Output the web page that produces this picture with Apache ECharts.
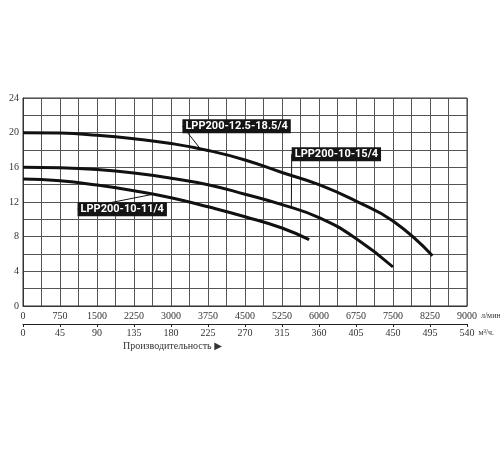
<!DOCTYPE html>
<html>
<head>
<meta charset="utf-8">
<script src="https://cdn.jsdelivr.net/npm/echarts@6/dist/echarts.min.js"></script>
<style>
  html, body { margin: 0; padding: 0; background: #fff; }
  #chart { width: 500px; height: 450px; }
</style>
</head>
<body>
<div id="chart"></div>
<script>
// flow in l/min, head in m
var curveTop = [[0, 20.0], [750, 19.95], [1500, 19.7], [2250, 19.3], [3000, 18.75], [3750, 17.95], [4500, 16.85], [5250, 15.4], [6000, 14.0], [6750, 12.1], [7500, 9.8], [8300, 5.8]]
var curveMid = [[0, 16.0], [750, 15.95], [1500, 15.75], [2250, 15.35], [3000, 14.75], [3750, 14.0], [4500, 12.9], [5250, 11.7], [6000, 10.2], [6750, 7.8], [7500, 4.5]]
var curveLow = [[0, 14.65], [750, 14.45], [1500, 13.95], [2250, 13.3], [3000, 12.5], [3750, 11.45], [4500, 10.3], [5250, 9.0], [5800, 7.65]]
var names = ['LPP200-12.5-18.5/4', 'LPP200-10-15/4', 'LPP200-10-11/4']
// where each tag's pointer touches its curve
var tagPoints = [[3600, 18.1], [5440, 11.4], [2640, 12.9]]

var serif = "'Liberation Serif', 'DejaVu Serif', serif"
var tagFont = "Roboto, 'DejaVu Sans Condensed', sans-serif"

function curve(name, pts) {
  return {
    name: name,
    type: 'line',
    smooth: true,
    symbol: 'none',
    lineStyle: { color: '#111', width: 3 },
    data: pts
  }
}

function tag(name, pt, pos, dx, dy) {
  return {
    name: name + ' tag',
    type: 'scatter',
    symbolSize: 0,
    z: 5,
    itemStyle: { opacity: 1 },
    label: {
      show: true,
      position: pos,
      distance: 5,
      formatter: name,
      color: '#fff',
      opacity: 1,
      backgroundColor: '#151515',
      fontFamily: tagFont,
      fontWeight: 'bold',
      fontSize: 11,
      lineHeight: 13,
      padding: [1, 3, 0, 3]
    },
    labelLine: { show: true, lineStyle: { color: '#111', width: 1, opacity: 1 } },
    labelLayout: { dx: dx, dy: dy },
    emphasis: { disabled: true },
    data: [pt]
  }
}

function plain(v) { return String(v) }

var chart = echarts.init(document.getElementById('chart'))
chart.setOption({
  backgroundColor: '#fff',
  animation: false,
  grid: {
    left: 23,
    top: 98,
    width: 444,
    height: 208,
    containLabel: false,
    outerBoundsMode: 'none',
    show: true,
    borderColor: '#333',
    borderWidth: 1
  },
  xAxis: [{
    type: 'value',
    min: 0,
    max: 9000,
    interval: 750,
    position: 'bottom',
    name: 'л/мин.',
    nameLocation: 'end',
    nameGap: 2,
    nameTextStyle: { fontFamily: serif, fontSize: 8, color: '#333', verticalAlign: 'top', padding: [6, 0, 0, 0] },
    axisLine: { show: true, lineStyle: { color: '#333' } },
    axisTick: { show: false },
    axisLabel: { margin: 5, fontFamily: serif, fontSize: 10, color: '#333', formatter: plain },
    splitLine: { show: true, lineStyle: { color: '#555', width: 1 } },
    minorTick: { show: false, splitNumber: 2 },
    minorSplitLine: { show: true, lineStyle: { color: '#555', width: 1 } }
  }, {
    type: 'value',
    min: 0,
    max: 540,
    interval: 45,
    position: 'bottom',
    offset: 18,
    name: 'м³/ч.',
    nameLocation: 'end',
    nameGap: 6,
    nameTextStyle: { fontFamily: serif, fontSize: 8, color: '#333', verticalAlign: 'top', padding: [5, 0, 0, 0] },
    axisLine: { show: true, lineStyle: { color: '#222' } },
    axisTick: { show: true, length: 3, lineStyle: { color: '#222' } },
    axisLabel: { margin: 4, fontFamily: serif, fontSize: 10, color: '#333', formatter: plain },
    splitLine: { show: false }
  }],
  yAxis: {
    type: 'value',
    min: 0,
    max: 24,
    interval: 4,
    name: 'Высота подъёма (м)',
    nameLocation: 'middle',
    nameGap: 21,
    nameTextStyle: { fontFamily: serif, fontSize: 12, color: '#333' },
    axisLine: { show: true, lineStyle: { color: '#333' } },
    axisTick: { show: false },
    axisLabel: { margin: 4, fontFamily: serif, fontSize: 10, color: '#333' },
    splitLine: { show: true, lineStyle: { color: '#555', width: 1 } },
    minorTick: { show: false, splitNumber: 2 },
    minorSplitLine: { show: true, lineStyle: { color: '#555', width: 1 } }
  },
  graphic: [{
    type: 'text',
    left: 123,
    top: 341,
    style: { text: 'Производительность ▶', font: '10px ' + serif, fill: '#333' }
  }],
  series: [
    curve(names[0], curveTop),
    curve(names[1], curveMid),
    curve(names[2], curveLow),
    tag(names[0], tagPoints[0], 'top', 36, -11),
    tag(names[1], tagPoints[1], 'top', 45, -41),
    tag(names[2], tagPoints[2], 'bottom', -31, 3)
  ]
})
</script>
</body>
</html>
